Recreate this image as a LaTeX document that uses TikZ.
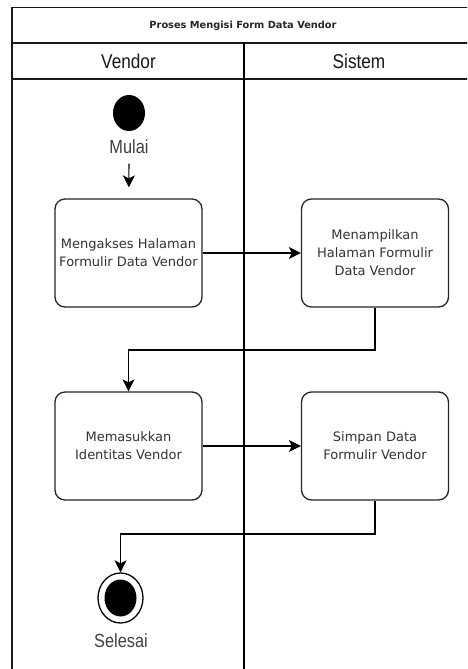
\documentclass[tikz,border=0pt]{standalone}
\usepackage{fontspec}
\setmainfont{DejaVu Sans}
\newfontfamily\narrowfont[FakeStretch=0.86]{Liberation Sans}
\usetikzlibrary{arrows.meta,shapes.geometric}
\begin{document}
\begin{tikzpicture}[x=1pt,y=-1pt,
  action/.style={draw=black!85,line width=1.3pt,rounded corners=10pt,
    minimum width=147pt,minimum height=108pt,align=center,inner sep=1pt,
    text=black!80,font=\fontsize{13}{18}\selectfont},
  lanehead/.style={font=\narrowfont\fontsize{20}{22}\selectfont,text=black!90},
  statelabel/.style={font=\narrowfont\fontsize{19}{21}\selectfont,text=black!75},
  flow/.style={draw=black,line width=1.2pt,
    -{Stealth[length=12pt,width=12pt,inset=3pt]}},
  frame/.style={draw=black!90,line width=1.6pt}]
  \useasboundingbox (0,0) rectangle (467,669);
  \clip (0,0) rectangle (467,669);
  \fill[white] (0,0) rectangle (467,669);

  % swimlane frame
  \draw[frame] (12,7.5) rectangle (474,690);
  \draw[frame] (12,43) -- (474,43);
  \draw[frame] (12,79) -- (474,79);
  \draw[draw=black,line width=1.3pt] (244,43) -- (244,690);

  % headings
  \node[font=\bfseries\fontsize{9.8}{12}\selectfont,text=black!85] (title) at (243,25.5) {Proses Mengisi Form Data Vendor};
  \node[lanehead] (lvendor) at (128.5,61.5) {Vendor};
  \node[lanehead] (lsistem) at (359,61.5) {Sistem};

  % start state
  \node[ellipse,fill=black,minimum width=32pt,minimum height=36pt,inner sep=0pt] (start) at (129,113) {};
  \node[statelabel] (mulai) at (129,147) {Mulai};

  % actions
  \node[action] (akses) at (128.5,253) {Mengakses Halaman\\Formulir Data Vendor};
  \node[action] (tampil) at (375,253) {Menampilkan\\Halaman Formulir\\Data Vendor};
  \node[action] (masuk) at (128.5,446) {Memasukkan\\Identitas Vendor};
  \node[action] (simpan) at (375,446) {Simpan Data\\Formulir Vendor};

  % final state
  \node[ellipse,draw=black,line width=1.3pt,fill=white,minimum width=45pt,minimum height=50pt,inner sep=0pt] (final) at (120.5,598) {};
  \node[ellipse,fill=black,minimum width=32pt,minimum height=37pt,inner sep=0pt] (finaldot) at (final.center) {};
  \node[statelabel] (selesai) at (121,641) {Selesai};

  % bends
  \coordinate (b1) at (375,350);
  \coordinate (b2) at (128.5,350);
  \coordinate (b3) at (375,534);
  \coordinate (b4) at (120.5,534);

  % transitions
  \draw[flow,shorten <=6pt,shorten >=11pt] (mulai) -- (akses);
  \draw[flow] (akses) -- (tampil);
  \draw[flow] (tampil.south) -- (b1) -- (b2) -- (masuk.north);
  \draw[flow] (masuk) -- (simpan);
  \draw[flow] (simpan.south) -- (b3) -- (b4) -- (final.north);
\end{tikzpicture}
\end{document}
